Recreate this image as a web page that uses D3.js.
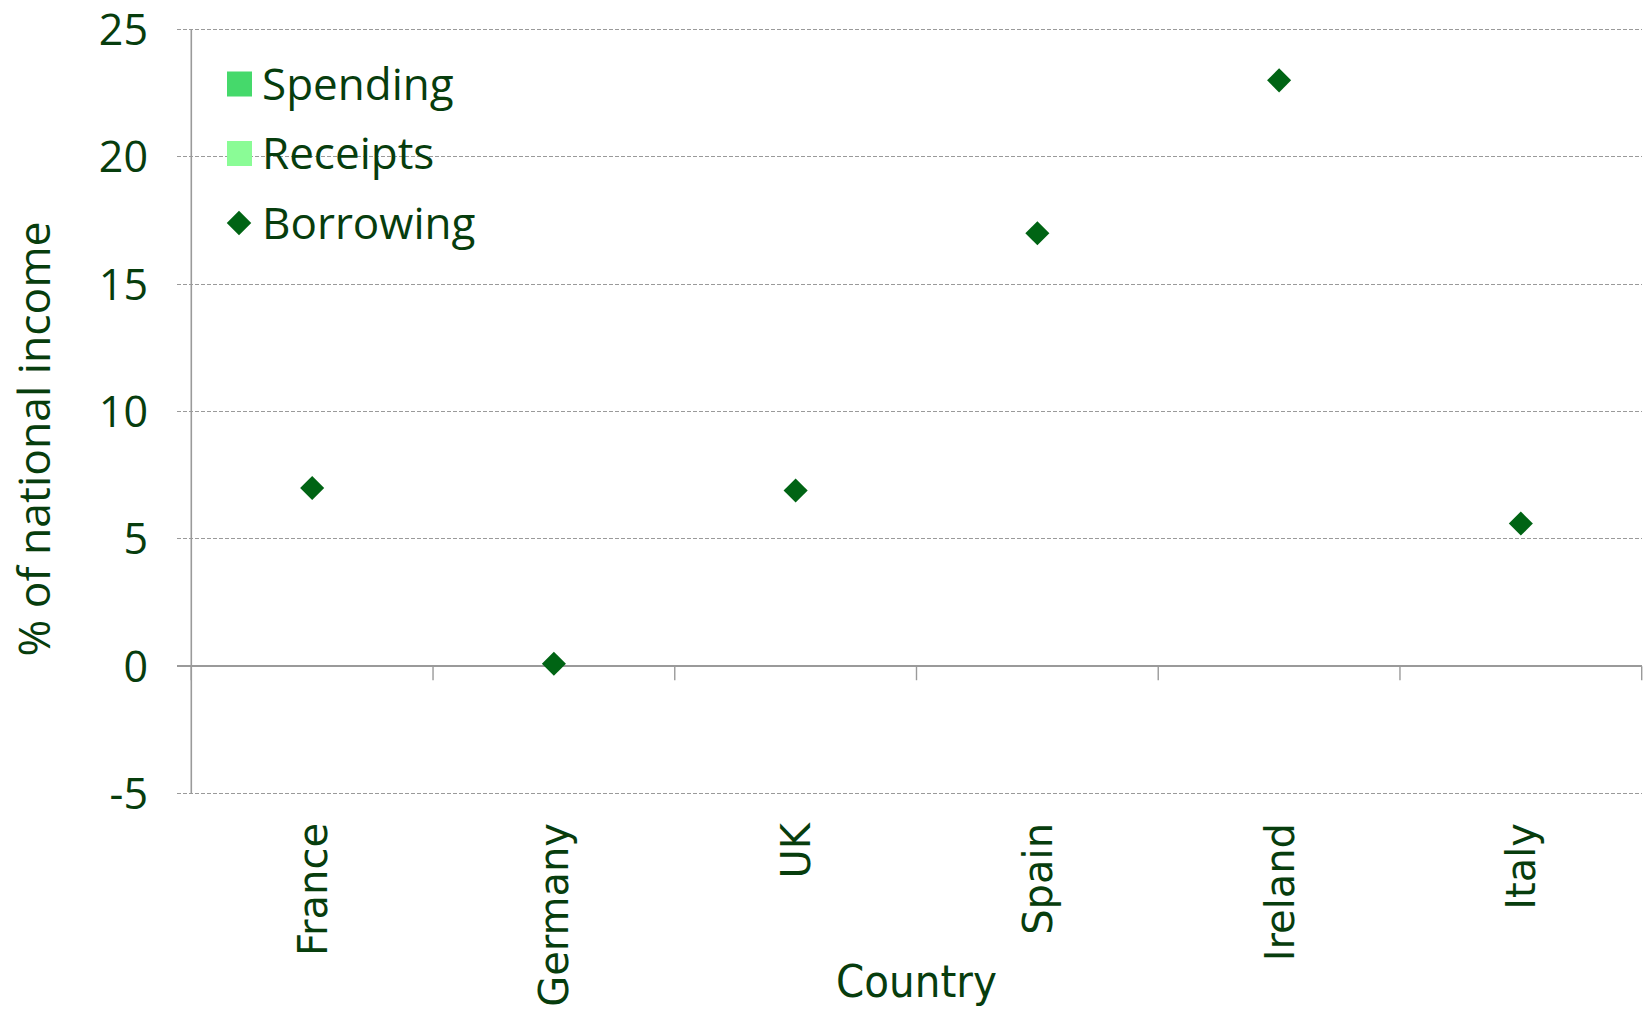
<!DOCTYPE html>
<html>
<head>
<meta charset="utf-8">
<script src="https://cdn.jsdelivr.net/npm/d3@7"></script>
<style>
  html, body { margin: 0; padding: 0; background: #fff; }
  svg { display: block; }
</style>
</head>
<body>
<svg id="chart" width="1648" height="1009"></svg>
<script>
// Fiscal positions by country, % of national income
const countries = ["France", "Germany", "UK", "Spain", "Ireland", "Italy"];
const borrowing = [7.0, 0.1, 6.9, 17.0, 23.0, 5.6];
const seriesNames = ["Spending", "Receipts", "Borrowing"];
const yTicks = [-5, 0, 5, 10, 15, 20, 25];

const textColor = "#073d0d";
const markColor = "#006414";
const seriesColors = { Spending: "#45d96b", Receipts: "#8afc96", Borrowing: markColor };
const gridColor = "#9a9a9a";
const mainFont = "'Open Sans', 'Noto Sans', sans-serif";
const catFont = "'DejaVu Sans', sans-serif";

const svg = d3.select("#chart");
const plotLeft = 191.3, plotRight = 1641.7, plotTop = 29.4, plotBottom = 793.6;

const x = d3.scaleBand().domain(countries).range([plotLeft, plotRight]);
const y = d3.scaleLinear().domain([-5, 25]).range([plotBottom, plotTop]);

// Dashed horizontal gridlines (zero line drawn solid)
svg.append("g").selectAll("line")
  .data(yTicks)
  .join("line")
  .attr("x1", plotLeft - 14).attr("x2", plotRight)
  .attr("y1", d => y(d)).attr("y2", d => y(d))
  .attr("stroke", gridColor)
  .attr("stroke-width", d => d === 0 ? 1.6 : 1.1)
  .attr("stroke-dasharray", d => d === 0 ? null : "4,2")
  .attr("shape-rendering", "crispEdges");

// Vertical axis line
svg.append("line")
  .attr("x1", plotLeft).attr("x2", plotLeft)
  .attr("y1", y(25)).attr("y2", y(-5))
  .attr("stroke", gridColor).attr("stroke-width", 1.6);

// Category ticks hanging below the zero line
const bounds = countries.map(c => x(c)).concat([plotRight]);
svg.append("g").selectAll("line")
  .data(bounds)
  .join("line")
  .attr("x1", d => d).attr("x2", d => d)
  .attr("y1", y(0)).attr("y2", y(0) + 14)
  .attr("stroke", gridColor).attr("stroke-width", 1.4);

// Y tick labels
svg.append("g").selectAll("text")
  .data(yTicks)
  .join("text")
  .attr("x", 148)
  .attr("y", d => y(d))
  .attr("dy", "0.36em")
  .attr("text-anchor", "end")
  .attr("font-family", mainFont)
  .attr("font-size", 43)
  .attr("fill", textColor)
  .text(d => d);

// Y axis title
svg.append("text")
  .attr("transform", `translate(34,439) rotate(-90)`)
  .attr("text-anchor", "middle")
  .attr("dy", "0.36em")
  .attr("font-family", mainFont)
  .attr("font-size", 44.5)
  .attr("fill", textColor)
  .text("% of national income");

// Rotated country labels
svg.append("g").selectAll("text")
  .data(countries)
  .join("text")
  .attr("transform", d => `translate(${x(d) + x.bandwidth() / 2},823) rotate(-90)`)
  .attr("text-anchor", "end")
  .attr("dy", "0.36em")
  .attr("font-family", catFont)
  .attr("font-size", 40)
  .attr("fill", textColor)
  .text(d => d);

// X axis title
svg.append("text")
  .attr("x", (plotLeft + plotRight) / 2)
  .attr("y", 997)
  .attr("text-anchor", "middle")
  .attr("font-family", "'DejaVu Sans Condensed', 'Liberation Sans Narrow', sans-serif")
  .attr("font-size", 45)
  .attr("fill", textColor)
  .text("Country");

// Borrowing markers
const diamond = d3.symbol().type(d3.symbolSquare).size(290);
svg.append("g").selectAll("path")
  .data(countries.map((c, i) => ({ c, v: borrowing[i] })))
  .join("path")
  .attr("d", diamond)
  .attr("transform", d => `translate(${x(d.c) + x.bandwidth() / 2},${y(d.v)}) rotate(45)`)
  .attr("fill", markColor);

// Legend
const legend = svg.append("g");
const legendRows = [84, 153.5, 223];
seriesNames.forEach((name, i) => {
  const cy = legendRows[i];
  if (name === "Borrowing") {
    legend.append("path")
      .attr("d", d3.symbol().type(d3.symbolSquare).size(300))
      .attr("transform", `translate(239,${cy}) rotate(45)`)
      .attr("fill", seriesColors[name]);
  } else {
    legend.append("rect")
      .attr("x", 227).attr("y", cy - 12.5)
      .attr("width", 25).attr("height", 25)
      .attr("fill", seriesColors[name]);
  }
  legend.append("text")
    .attr("x", 262).attr("y", cy)
    .attr("dy", "0.36em")
    .attr("font-family", mainFont)
    .attr("font-size", 44)
    .attr("fill", textColor)
    .text(name);
});
</script>
</body>
</html>
